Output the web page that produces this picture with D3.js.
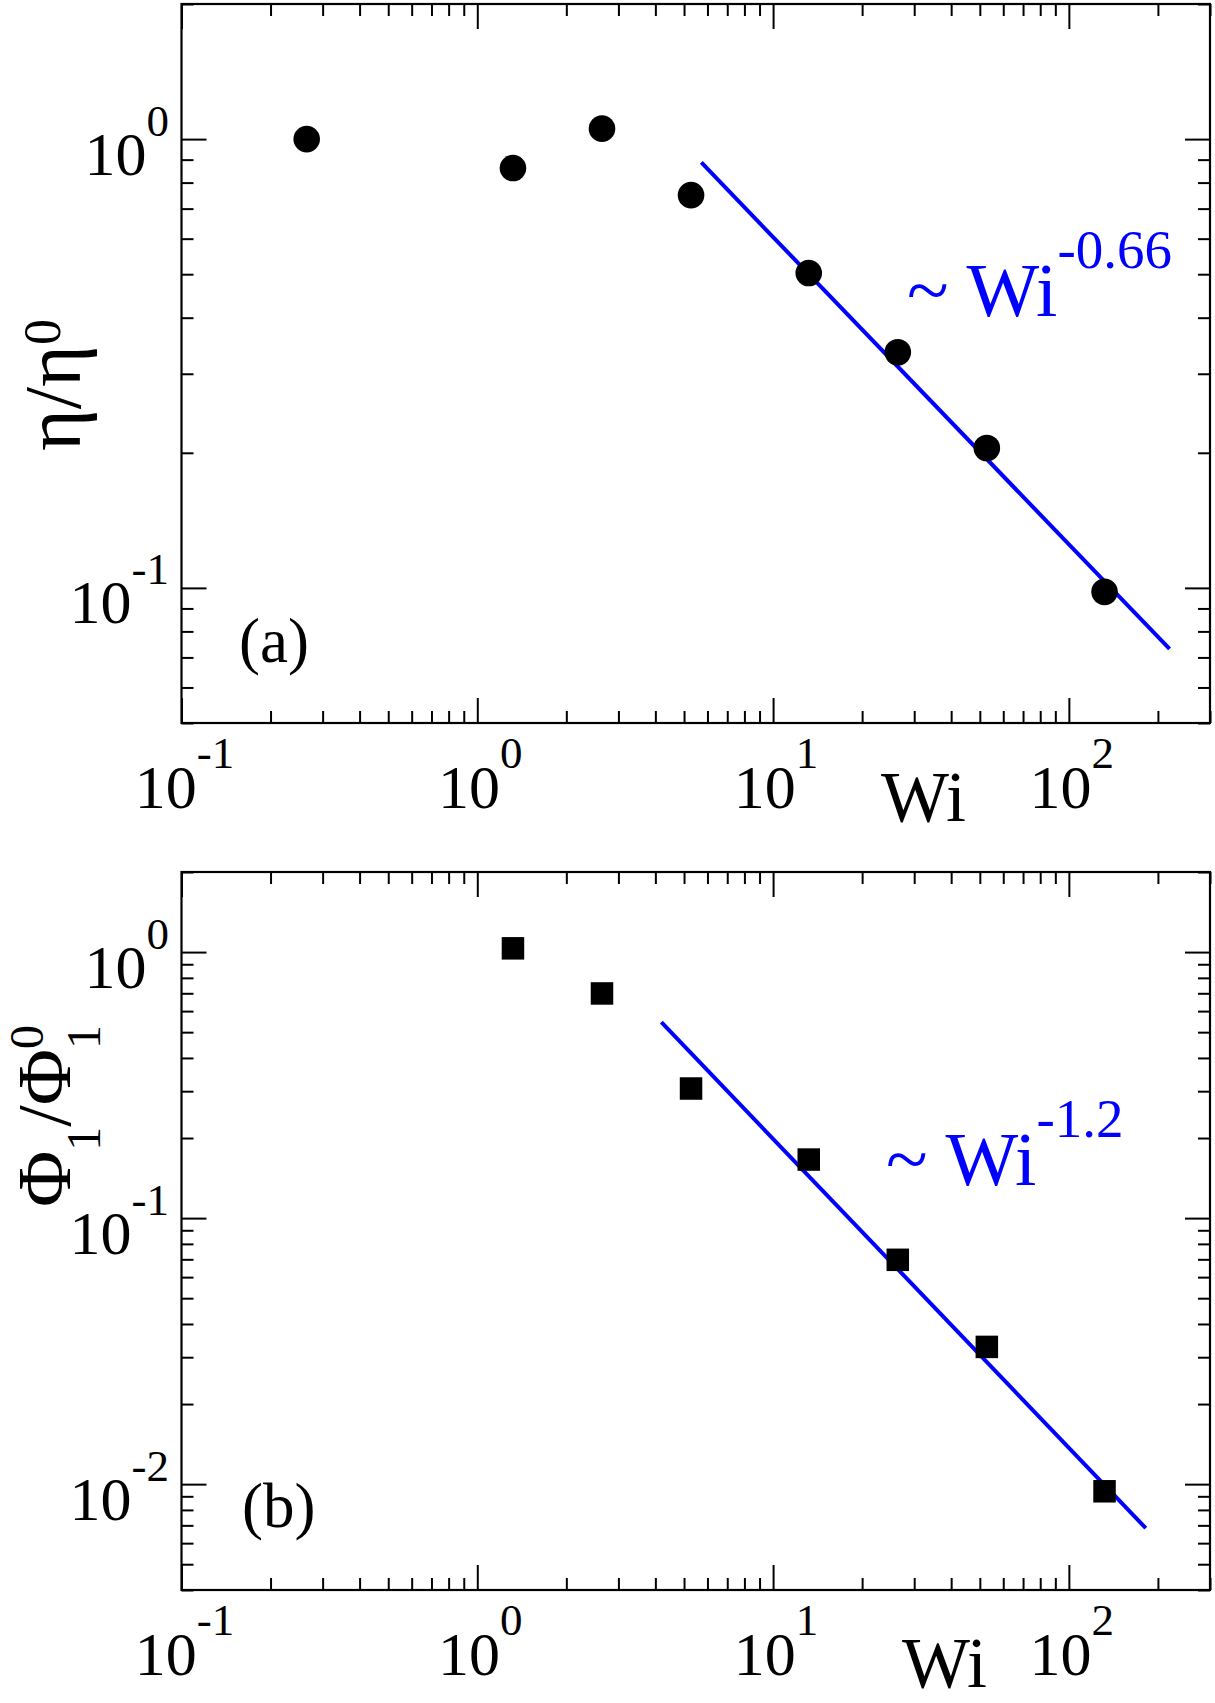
<!DOCTYPE html>
<html><head><meta charset="utf-8">
<script src="https://cdn.jsdelivr.net/npm/d3@7"></script>
<style>
body{margin:0;background:#fff}
text{font-family:"Liberation Serif","Times New Roman",Times,serif;}
</style>
</head><body>
<svg id="c" width="1215" height="1703"></svg>
<script>
// ---- data ----
const wiEta = [0.265, 1.32, 2.64, 5.28, 13.2, 26.4, 52.8, 132];
const eta   = [1.0, 0.862, 1.055, 0.75, 0.503, 0.335, 0.205, 0.098];
const wiPhi = [1.32, 2.64, 5.28, 13.2, 26.4, 52.8, 132];
const phi   = [1.033, 0.699, 0.307, 0.166, 0.0697, 0.0328, 0.0094];
const fitEtaWi = [5.72, 219];
const fitEta   = [0.887, 0.0731];
const fitPhiWi = [4.19, 182];
const fitPhi   = [0.545, 0.00683];
const xDomain = [0.1, 300];
const xMajor = [0.1, 1, 10, 100];
const xMajorExp = ["-1", "0", "1", "2"];
const yDomainA = [0.05, 2];
const yMajorA = [1, 0.1];
const yMajorExpA = ["0", "-1"];
const yDomainB = [0.004, 2];
const yMajorB = [1, 0.1, 0.01];
const yMajorExpB = ["0", "-1", "-2"];
const fitLabelA = ["~ Wi", "-0.66"];
const fitLabelB = ["~ Wi", "-1.2"];

const svg = d3.select("#c");
const L = 181.5, R = 1210;
const x = d3.scaleLog().domain(xDomain).range([L, R]);

function isMajor(v){ const l = Math.log10(v); return Math.abs(l - Math.round(l)) < 1e-9; }

function drawPanel(cfg){
  const g = svg.append("g");
  const y = d3.scaleLog().domain(cfg.yDomain).range([cfg.bottom, cfg.top]);
  const xMinor = x.ticks().filter(v => !isMajor(v));
  const yMinor = y.ticks().filter(v => !isMajor(v));
  const yMaj = cfg.yMajor;
  const axes = [
    [d3.axisBottom(x), `translate(0,${cfg.bottom})`, xMinor, xMajor],
    [d3.axisTop(x), `translate(0,${cfg.top})`, xMinor, xMajor],
    [d3.axisLeft(y), `translate(${L},0)`, yMinor, yMaj],
    [d3.axisRight(y), `translate(${R},0)`, yMinor, yMaj]
  ];
  axes.forEach(([ax, tr, mn, mj]) => {
    const a1 = g.append("g").attr("transform", tr)
      .call(ax.tickValues(mn).tickSize(-12).tickFormat(""));
    a1.select(".domain").remove();
    const a2 = g.append("g").attr("transform", tr)
      .call(ax.tickValues(mj).tickSize(-25).tickFormat(""));
    a2.select(".domain").remove();
    [a1, a2].forEach(a => a.selectAll("line").attr("stroke", "#000").attr("stroke-width", 2));
  });
  g.append("rect").attr("x", L).attr("y", cfg.top)
    .attr("width", R - L).attr("height", cfg.bottom - cfg.top)
    .attr("fill", "none").attr("stroke", "#000").attr("stroke-width", 2.2);

  // x tick labels
  xMajor.forEach((v, i) => {
    const t = g.append("text").attr("x", x(v) + 3).attr("y", cfg.bottom + 84.5)
      .attr("text-anchor", "middle").attr("font-size", 62);
    t.append("tspan").text("10");
    t.append("tspan").attr("dy", -40).attr("font-size", 45).text(xMajorExp[i]);
  });
  // y tick labels
  yMaj.forEach((v, i) => {
    const t = g.append("text").attr("x", 169).attr("y", y(v) + 35.5)
      .attr("text-anchor", "end").attr("font-size", 62);
    t.append("tspan").text("10");
    t.append("tspan").attr("dy", -39).attr("font-size", 45).text(cfg.yMajorExp[i]);
  });

  // fit line
  const pts = cfg.fitX.map((v, i) => [v, cfg.fitY[i]]);
  g.append("path").datum(pts)
    .attr("d", d3.line().x(d => x(d[0])).y(d => y(d[1])))
    .attr("fill", "none").attr("stroke", "#0000ff").attr("stroke-width", 4);

  // markers
  const data = cfg.xs.map((v, i) => [v, cfg.ys[i]]);
  if (cfg.marker === "circle") {
    g.selectAll("circle.m").data(data).join("circle")
      .attr("cx", d => x(d[0])).attr("cy", d => y(d[1])).attr("r", 13.3).attr("fill", "#000");
  } else {
    const s = 22.5;
    g.selectAll("rect.m").data(data).join("rect")
      .attr("x", d => x(d[0]) - s/2).attr("y", d => y(d[1]) - s/2)
      .attr("width", s).attr("height", s).attr("fill", "#000");
  }

  // x axis title
  g.append("text").attr("x", cfg.wiX).attr("y", cfg.wiY).attr("font-size", 72).text("Wi");
  // panel tag
  g.append("text").attr("x", cfg.tagX).attr("y", cfg.tagY).attr("font-size", 63).text(cfg.tag);
  // fit label
  const ft = g.append("text").attr("x", cfg.fitLX).attr("y", cfg.fitLY)
    .attr("font-size", 77).attr("fill", "#0000ff");
  ft.append("tspan").text(cfg.fitLabel[0]);
  ft.append("tspan").attr("dy", -48).attr("font-size", 55).text(cfg.fitLabel[1]);
  return g;
}

const gA = drawPanel({
  top: 4, bottom: 723, yDomain: yDomainA, yMajor: yMajorA, yMajorExp: yMajorExpA,
  xs: wiEta, ys: eta, marker: "circle", fitX: fitEtaWi, fitY: fitEta,
  wiX: 881, wiY: 821, tag: "(a)", tagX: 239, tagY: 662,
  fitLabel: fitLabelA, fitLX: 907, fitLY: 316
});
const gB = drawPanel({
  top: 872, bottom: 1590, yDomain: yDomainB, yMajor: yMajorB, yMajorExp: yMajorExpB,
  xs: wiPhi, ys: phi, marker: "square", fitX: fitPhiWi, fitY: fitPhi,
  wiX: 902, wiY: 1687, tag: "(b)", tagX: 242, tagY: 1527,
  fitLabel: fitLabelB, fitLX: 886, fitLY: 1185
});

// y axis title (a): η/η^0
const ya = gA.append("text").attr("transform", "translate(80,451) rotate(-90)").attr("font-size", 80);
ya.append("tspan").text("η/η");
ya.append("tspan").attr("dy", -20).attr("font-size", 52).text("0");

// y axis title (b): Φ1/Φ1^0 with stacked sub/sup
const yb = gB.append("g").attr("transform", "translate(70,1207) rotate(-90)");
const ybt = yb.append("text").attr("font-size", 77);
ybt.append("tspan").text("Φ");
ybt.append("tspan").attr("dy", 30).attr("font-size", 48).text("1");
ybt.append("tspan").attr("dy", -30).text("/Φ");
const len = ybt.node().getComputedTextLength();
yb.append("text").attr("x", len).attr("y", 30).attr("font-size", 48).text("1");
yb.append("text").attr("x", len).attr("y", -27).attr("font-size", 48).text("0");
</script>
</body></html>
